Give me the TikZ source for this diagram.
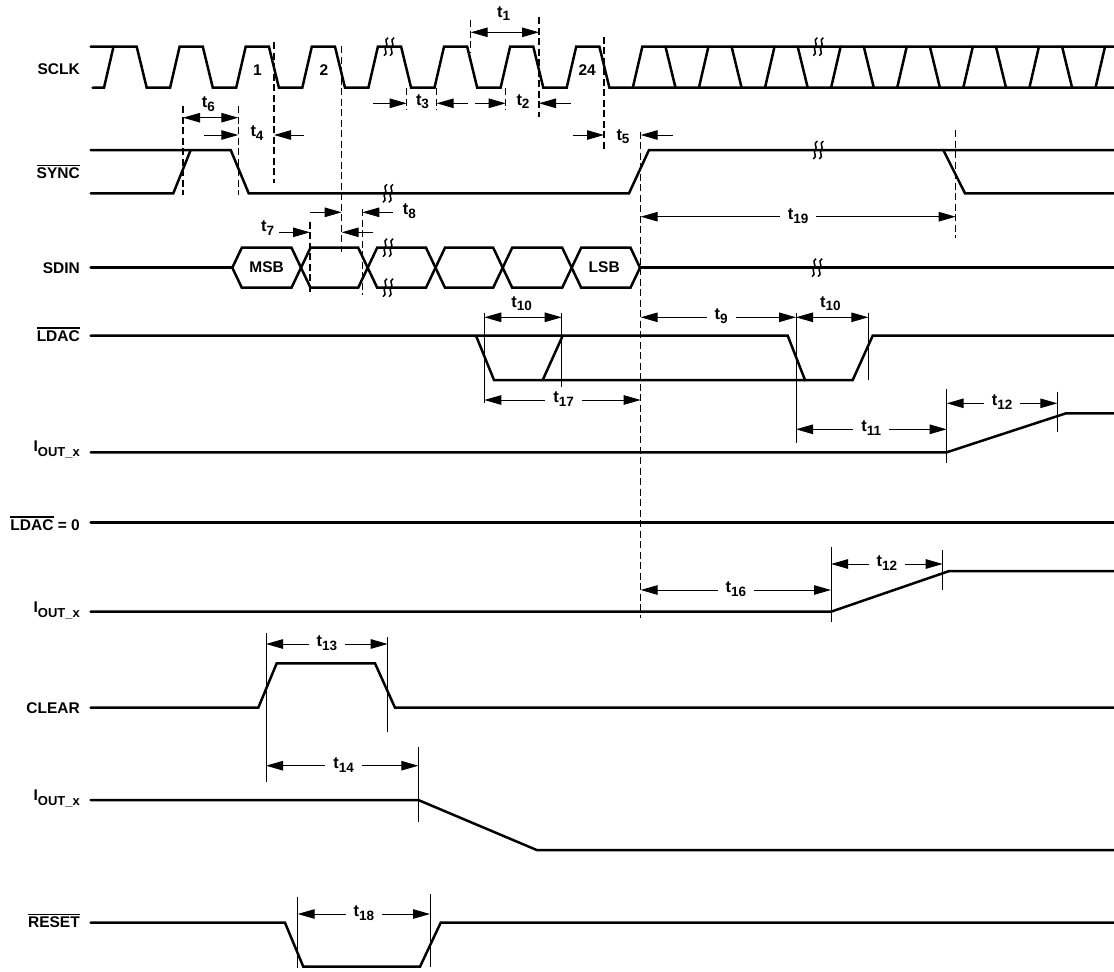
\documentclass[tikz,border=0pt]{standalone}
\usepackage{fontspec}
\setmainfont{Liberation Sans}
\usetikzlibrary{arrows.meta}

\newsavebox\sigbox
\newcommand{\barsig}[1]{\sbox\sigbox{#1}\rlap{\rule[\dimexpr\ht\sigbox+1.6pt\relax]{\wd\sigbox}{1.3pt}}\usebox\sigbox}
\newcommand{\tm}[1]{{\fontsize{16.5}{18}\selectfont t}\raisebox{-3.8pt}{\fontsize{13.5}{14}\selectfont #1}}
\newcommand{\iout}{I\raisebox{-5pt}{\fontsize{13}{13}\selectfont OUT\_x}}

\tikzset{
  brk/.pic={\foreach \dx in {-3,3}
    \draw[line width=1.5pt, shift={(\dx,0)}] (2,-9) .. controls (-3,-6) and (3,-3) .. (0,0)
      .. controls (-3,3) and (3,6) .. (-2,9);}
}

\begin{document}
\begin{tikzpicture}[x=1pt, y=-1pt,
  sig/.style={line width=2.5pt, line cap=round},
  guide/.style={line width=1.2pt, dash pattern=on 7pt off 3.5pt},
  tick/.style={line width=1pt},
  dim/.style={line width=1pt, -{Triangle[length=17pt,width=9.5pt]}},
  dimb/.style={line width=1pt, {Triangle[length=17pt,width=9.5pt]}-{Triangle[length=17pt,width=9.5pt]}},
  lbl/.style={font=\bfseries\fontsize{15.5}{18}\selectfont, inner sep=0pt},
  tlab/.style={lbl, anchor=mid},
  tgap/.style={tlab, fill=white, inner xsep=8pt, inner ysep=2pt}]

\useasboundingbox (0,0) rectangle (1114,972);

% signal names
\node[lbl, anchor=base east] (sclk) at (80,74) {SCLK};
\node[lbl, anchor=base east] (sync) at (80,178.3) {\barsig{SYNC}};
\node[lbl, anchor=base east] (sdin) at (80,273.3) {SDIN};
\node[lbl, anchor=base east] (ldac) at (80,341) {\barsig{LDAC}};
\node[lbl, anchor=base east] (ioutA) at (80,451.7) {\iout};
\node[lbl, anchor=base east] (ldaczero) at (80,530) {\barsig{LDAC} = 0};
\node[lbl, anchor=base east] (ioutB) at (80,612.7) {\iout};
\node[lbl, anchor=base east] (clear) at (80,713) {CLEAR};
\node[lbl, anchor=base east] (ioutC) at (80,800.5) {\iout};
\node[lbl, anchor=base east] (reset) at (80,927.5) {\barsig{RESET}};

% SCLK
\draw[sig] (92.7,87.7) -- (104,87.7) -- (113.5,46.7);
\draw[sig] (90.7,46.7) \foreach \k in {0,...,6} {
    -- ({136.7+66.1*\k},46.7) -- ({146.7+66.1*\k},87.7)
    -- ({170.1+66.1*\k},87.7) -- ({179.6+66.1*\k},46.7) }
  -- (599.4,46.7) -- (609.4,87.7) -- (1114,87.7);
\draw[sig] (632.8,87.7) -- (642.3,46.7) -- (1114,46.7);
\foreach \k in {8,...,14}
  \draw[sig] ({136.7+66.1*\k},46.7) -- ++(10,41) ({170.1+66.1*\k},87.7) -- ++(9.5,-41);
\node[lbl] (clk1) at (257.5,70.5) {1};
\node[lbl] (clk2) at (324,70.5) {2};
\node[lbl] (clk24) at (587.2,70) {24};

% SYNC
\draw[sig] (90.7,193.3) -- (173.3,193.3) -- (190.7,150);
\draw[sig] (90.7,150) -- (230.7,150) -- (248.7,193.3) -- (629,193.3) -- (649,150) -- (1114,150);
\draw[sig] (943.3,150) -- (965,193.3) -- (1114,193.3);

% SDIN
\draw[sig] (90.7,267.7) -- (232.3,267.7);
\foreach \a/\b in {232.3/301,301/367.7,367.7/435.5,435.5/502.7,502.7/571.7,571.7/640}
  \draw[sig] (\a,267.7) -- ({\a+9.5},247.7) -- ({\b-9.5},247.7) -- (\b,267.7)
    -- ({\b-9.5},287.7) -- ({\a+9.5},287.7) -- cycle;
\draw[sig] (640,267.7) -- (1114,267.7);
\node[lbl] (msb) at (266.7,267.5) {MSB};
\node[lbl] (lsb) at (604.2,267.5) {LSB};

% LDAC
\draw[sig] (90.7,335.7) -- (787.7,335.7) -- (805,380) -- (852.7,380) -- (872.7,335.7) -- (1114,335.7);
\draw[sig] (476,335.7) -- (494,380) -- (805,380);
\draw[sig] (542.7,380) -- (562.7,335.7);

% outputs and control inputs
\draw[sig] (90.7,452.3) -- (946.7,452.3) -- (1066,413.3) -- (1114,413.3);
\draw[sig] (90.7,522.3) -- (1114,522.3);
\draw[sig] (90.7,611.7) -- (831,611.7) -- (949.3,571) -- (1114,571);
\draw[sig] (90.7,707.7) -- (258.3,707.7) -- (276.7,663.3) -- (375,663.3) -- (395,707.7) -- (1114,707.7);
\draw[sig] (90.7,800) -- (418.3,800) -- (536.7,850) -- (1114,850);
\draw[sig] (90.7,922.7) -- (285,922.7) -- (303.3,966.7) -- (420,966.7) -- (440.7,922.7) -- (1114,922.7);

% breaks
\foreach \p in {(389,46.7),(388,193.3),(388,247.7),(388,287.7),(818.3,46.7),(818.3,150),(817,267.7)}
  \pic at \p {brk};

% dashed guides
\draw[guide] (183,106) -- (183,195);
\draw[guide] (238.3,106) -- (238.3,195);
\draw[guide] (274,42) -- (274,183);
\draw[guide] (341.7,46) -- (341.7,251.7);
\draw[guide] (470.7,20) -- (470.7,52);
\draw[guide] (539,17) -- (539,116.7);
\draw[guide] (406.7,88) -- (406.7,110);
\draw[guide] (436.7,88) -- (436.7,110);
\draw[guide] (505.7,88) -- (505.7,110);
\draw[guide] (604,36.7) -- (604,150.7);
\draw[guide] (640.7,131.7) -- (640.7,618.3);
\draw[guide] (955.7,130) -- (955.7,238);
\draw[guide] (310,221.7) -- (310,295);
\draw[guide] (362.3,209.3) -- (362.3,295);

% solid markers
\draw[tick] (484.3,313.3) -- (484.3,402.7);
\draw[tick] (561.7,313.3) -- (561.7,386.7);
\draw[tick] (796,312.7) -- (796,443.3);
\draw[tick] (868.3,313) -- (868.3,380);
\draw[tick] (946.7,389.3) -- (946.7,462.7);
\draw[tick] (1057.3,391.7) -- (1057.3,431.7);
\draw[tick] (831,546.7) -- (831,621.7);
\draw[tick] (942.7,550) -- (942.7,590);
\draw[tick] (266,633.3) -- (266,781.7);
\draw[tick] (387.7,637.3) -- (387.7,731.7);
\draw[tick] (418.3,746.7) -- (418.3,821.7);
\draw[tick] (297.7,897.3) -- (297.7,968.3);
\draw[tick] (430,894) -- (430,966.7);

% timing arrows
\draw[dimb] (183,117.7) -- (238.3,117.7);
\node[tlab] (t6) at (208.3,105) {\tm{6}};
\draw[dim] (204,135) -- (238.3,135);
\draw[dim] (304,135) -- (274,135);
\node[tlab] (t4) at (257,134) {\tm{4}};
\draw[dimb] (470.7,32.3) -- (539,32.3);
\node[tlab] (t1) at (503.7,14.5) {\tm{1}};
\draw[dim] (373,103.3) -- (406.7,103.3);
\draw[dim] (468.3,103.3) -- (436.7,103.3);
\node[tlab] (t3) at (422.5,102.5) {\tm{3}};
\draw[dim] (475,103.3) -- (505.7,103.3);
\draw[dim] (570.7,103.3) -- (539,103.3);
\node[tlab] (t2) at (523,102.5) {\tm{2}};
\draw[dim] (572.7,135) -- (604,135);
\draw[dim] (672.7,135) -- (640.7,135);
\node[tlab] (t5) at (623,137.5) {\tm{5}};
\draw[dimb] (640.7,216.7) -- node[tgap] (t19) {\tm{19}} (955.7,216.7);
\draw[dim] (310,212.3) -- (341.7,212.3);
\draw[dim] (393.3,212.3) -- (362.3,212.3);
\node[tlab] (t8) at (409.3,211.7) {\tm{8}};
\draw[dim] (279.3,232.3) -- (310,232.3);
\draw[dim] (373.3,232.3) -- (341.7,232.3);
\node[tlab] (t7) at (267.7,229) {\tm{7}};
\draw[dimb] (484.3,317.3) -- (561.7,317.3);
\node[tlab] (t10a) at (521.7,304.5) {\tm{10}};
\draw[dimb] (484.3,400) -- node[tgap, pos=0.507] (t17) {\tm{17}} (640.7,400);
\draw[dimb] (640.7,317.3) -- node[tgap, pos=0.518] (t9) {\tm{9}} (796,317.3);
\draw[dimb] (796,317.3) -- (868.3,317.3);
\node[tlab] (t10b) at (830.3,304.5) {\tm{10}};
\draw[dimb] (796,429.3) -- node[tgap] (t11) {\tm{11}} (946.7,429.3);
\draw[dimb] (946.7,403.3) -- node[tgap] (t12a) {\tm{12}} (1057.3,403.3);
\draw[dimb] (640.7,590) -- node[tgap] (t16) {\tm{16}} (831,590);
\draw[dimb] (831,564) -- node[tgap] (t12b) {\tm{12}} (942.7,564);
\draw[dimb] (266,644) -- node[tgap] (t13) {\tm{13}} (387.7,644);
\draw[dimb] (266,765.7) -- node[tgap, pos=0.51] (t14) {\tm{14}} (418.3,765.7);
\draw[dimb] (297.7,914) -- node[tgap] (t18) {\tm{18}} (430,914);

\end{tikzpicture}
\end{document}
